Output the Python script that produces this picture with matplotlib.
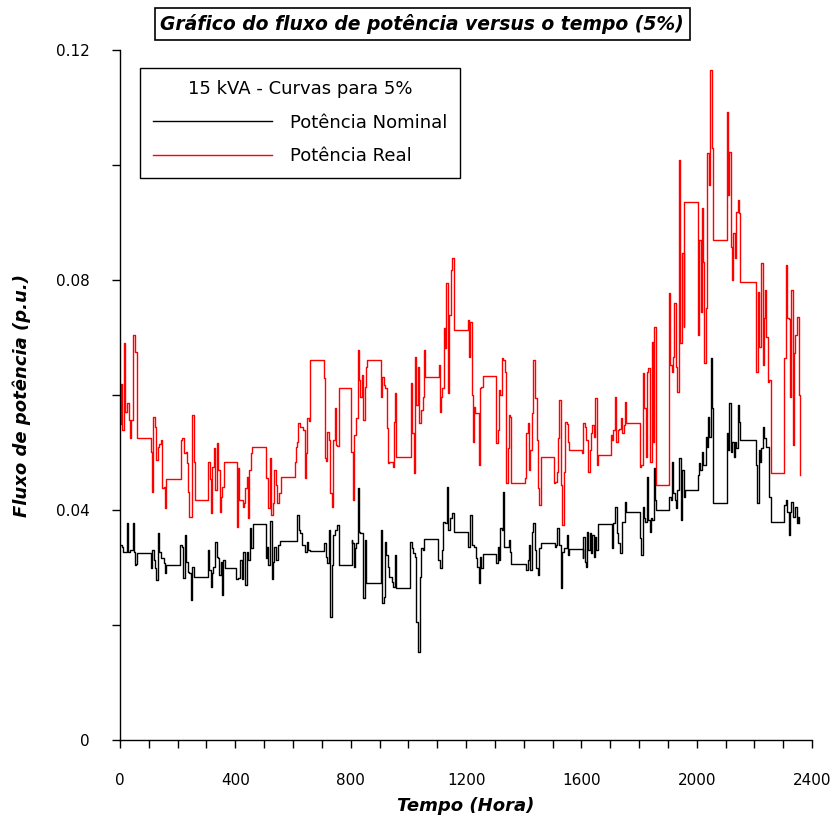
import matplotlib
matplotlib.use("Agg")
import matplotlib.pyplot as plt
from matplotlib.ticker import MultipleLocator

# --- data (hour, p.u.) ---
real_hours = [0, 3, 8, 14, 17, 24, 31, 35, 40, 46, 52, 58, 60, 106, 112, 116, 121, 126, 131, 135,
              141, 147, 153, 156, 158, 210, 214, 223, 228, 231, 235, 239, 251, 257, 260, 306, 311, 316, 320, 326,
              329, 335, 341, 346, 350, 355, 361,
              405, 410, 414, 425, 430, 434, 439, 445, 448, 454, 459, 505, 514, 520, 525, 530, 534, 540, 546, 551,
              557, 606, 610, 615, 618, 624, 636, 640, 645, 650, 654, 659, 706, 711, 716, 719, 725, 728, 735, 739,
              745, 749, 754, 758,
              801, 807, 809, 813, 818, 824, 829, 834, 838, 844, 850, 854, 858, 906, 910, 915, 919, 925, 928, 934,
              945, 949, 954, 958, 1008, 1014, 1020, 1023, 1028, 1032, 1038, 1044, 1049, 1054, 1058, 1106, 1110,
              1113, 1118, 1123, 1127, 1132, 1139, 1142, 1148, 1152, 1157,
              1205, 1209, 1213, 1220, 1223, 1229, 1232, 1239, 1244, 1248, 1253, 1258, 1304, 1309, 1313, 1318,
              1324, 1329, 1335, 1340, 1345, 1349, 1353, 1357, 1406, 1409, 1414, 1418, 1423, 1428, 1433, 1439,
              1445, 1450, 1454, 1459, 1505, 1510, 1514, 1518, 1522, 1528, 1533, 1539, 1544, 1549, 1554, 1558,
              1603, 1607, 1613, 1617, 1622, 1628, 1632, 1638, 1643, 1648, 1653, 1657, 1703, 1707, 1711, 1717,
              1721, 1726, 1730, 1737, 1742, 1747, 1752, 1756, 1803, 1808, 1813, 1818, 1823, 1829, 1832, 1838,
              1844, 1848, 1853, 1858, 1904, 1907, 1913, 1918, 1922, 1927, 1933, 1939, 1943, 1948, 1954, 1957,
              2003, 2008, 2013, 2017, 2022, 2026, 2032, 2037, 2041, 2047, 2052, 2057, 2104, 2109, 2113, 2118,
              2122, 2127, 2132, 2136, 2142, 2147, 2151, 2205, 2211, 2216, 2223, 2228, 2232, 2237, 2241, 2247,
              2252, 2257, 2304, 2309, 2313, 2318, 2323, 2327, 2332, 2336, 2342, 2348, 2354, 2358]
real_vals = [0.055, 0.062, 0.054, 0.069, 0.057, 0.0586, 0.0557, 0.0525, 0.0557, 0.0704,
             0.0675, 0.0626, 0.0525, 0.0501, 0.0431, 0.0562, 0.0545, 0.0487, 0.051, 0.0515,
             0.0522, 0.0438, 0.044, 0.0403, 0.0454, 0.0522, 0.0525, 0.050, 0.0501, 0.0482,
             0.0431, 0.0388, 0.0565, 0.0483, 0.0417, 0.0483, 0.0455, 0.0395, 0.0475, 0.0508,
             0.0435, 0.0517, 0.0470, 0.0397, 0.0423, 0.0440, 0.0483,
             0.0370, 0.0473, 0.0417, 0.0405, 0.0412, 0.0438, 0.0457, 0.0386, 0.0470, 0.0499,
             0.0510, 0.0456, 0.0403, 0.0490, 0.0391, 0.0412, 0.0470, 0.0443, 0.0412, 0.0430,
             0.0457, 0.0483, 0.0510, 0.0518, 0.0551, 0.0544, 0.0539, 0.0456, 0.0499, 0.0560,
             0.0555, 0.0661, 0.0630, 0.0490, 0.0485, 0.0536, 0.0522, 0.0430, 0.0405, 0.0522,
             0.0577, 0.0513, 0.0511, 0.0612,
             0.0501, 0.0480, 0.0417, 0.0530, 0.0560, 0.0678, 0.0626, 0.0597, 0.0635, 0.0557,
             0.0614, 0.0649, 0.0661, 0.0597, 0.0631, 0.0617, 0.0612, 0.0543, 0.0482, 0.0483,
             0.0475, 0.0553, 0.0603, 0.0492, 0.0621, 0.0534, 0.0464, 0.0666, 0.0583, 0.0649,
             0.0551, 0.0574, 0.0597, 0.0678, 0.0631, 0.0652, 0.0570, 0.0597, 0.0612, 0.0717,
             0.0682, 0.0795, 0.0603, 0.0739, 0.0817, 0.0838, 0.0713,
             0.0730, 0.0666, 0.0727, 0.0600, 0.0518, 0.0579, 0.0569, 0.0569, 0.0478, 0.0612,
             0.0614, 0.0633, 0.0517, 0.0539, 0.0609, 0.0600, 0.0664, 0.0661, 0.0640, 0.0447,
             0.0508, 0.0565, 0.0562, 0.0447, 0.0456, 0.0534, 0.0551, 0.0470, 0.0504, 0.0569,
             0.0661, 0.0595, 0.0522, 0.0438, 0.0409, 0.0492, 0.0447, 0.0449, 0.0466, 0.0525,
             0.0591, 0.0443, 0.0374, 0.0466, 0.0553, 0.0550, 0.0518, 0.0504,
             0.0499, 0.0551, 0.0544, 0.0522, 0.0466, 0.0504, 0.0534, 0.0548, 0.0527, 0.0595,
             0.0478, 0.0496, 0.0530, 0.0522, 0.0539, 0.0597, 0.0518, 0.0539, 0.0541, 0.0560,
             0.0534, 0.0548, 0.0588, 0.0551, 0.0475, 0.0478, 0.0638, 0.0577, 0.0492, 0.0640,
             0.0647, 0.0483, 0.0692, 0.0518, 0.0718, 0.0443, 0.0777, 0.0652, 0.0640, 0.0666,
             0.0760, 0.0649, 0.0605, 0.1009, 0.0690, 0.0847, 0.0718, 0.0936,
             0.0704, 0.0870, 0.0744, 0.0925, 0.0831, 0.0656, 0.0751, 0.1021, 0.0965, 0.1165,
             0.1030, 0.0870, 0.1092, 0.0948, 0.1023, 0.0857, 0.0800, 0.0882, 0.0838, 0.0918,
             0.0939, 0.0917, 0.0797, 0.0640, 0.0779, 0.0683, 0.0830, 0.0652, 0.0734, 0.0783,
             0.0701, 0.0623, 0.0626, 0.0464, 0.0664, 0.0826, 0.0734, 0.0732, 0.0597, 0.0783,
             0.0513, 0.0673, 0.0704, 0.0736, 0.0600, 0.0461]

nom_hours = [0, 6, 12, 17, 24, 28, 35, 44, 48, 52, 55, 60, 108, 112, 118, 121, 126, 133, 137, 144,
             151, 156, 159, 208, 214, 220, 225, 230, 235, 239, 246, 251, 258, 305, 310, 315, 319, 324, 329, 335,
             339, 344, 349, 353, 358, 363,
             403, 410, 416, 422, 428, 434, 439, 445, 451, 456, 460, 505, 509, 514, 520, 526, 530, 535, 541, 549,
             555, 613, 620, 625, 632, 640, 647, 653, 659, 707, 714, 719, 725, 729, 735, 739, 745, 754, 758,
             803, 806, 812, 815, 818, 824, 828, 832, 844, 850, 854, 905, 910, 915, 919, 924, 929, 934, 942, 948,
             954, 957, 1007, 1012, 1017, 1023, 1028, 1033, 1039, 1044, 1049, 1053, 1104, 1110, 1116, 1120,
             1127, 1133, 1139, 1143, 1150, 1157,
             1205, 1215, 1220, 1227, 1234, 1239, 1244, 1248, 1253, 1258, 1304, 1310, 1314, 1319, 1324, 1329,
             1333, 1348, 1353, 1357, 1409, 1414, 1418, 1423, 1428, 1432, 1438, 1444, 1450, 1454, 1459, 1507,
             1512, 1517, 1522, 1529, 1534, 1540, 1549, 1554, 1558,
             1603, 1605, 1607, 1613, 1616, 1620, 1624, 1629, 1632, 1638, 1643, 1648, 1652, 1657, 1705, 1707,
             1711, 1717, 1722, 1726, 1732, 1739, 1750, 1754, 1804, 1808, 1814, 1817, 1822, 1828, 1832, 1836,
             1841, 1845, 1853, 1855, 1858, 1905, 1909, 1915, 1919, 1924, 1929, 1933, 1939, 1945, 1950, 1954, 1959,
             2003, 2006, 2011, 2017, 2022, 2031, 2036, 2039, 2043, 2049, 2052, 2057, 2104, 2108, 2113, 2117,
             2122, 2128, 2132, 2137, 2142, 2147, 2151, 2205, 2209, 2214, 2219, 2223, 2229, 2232, 2241, 2249,
             2257, 2304, 2309, 2313, 2318, 2323, 2327, 2334, 2339, 2346, 2350, 2355]
nom_vals = [0.0339, 0.0336, 0.0327, 0.0327, 0.0377, 0.0327, 0.0330, 0.0377, 0.0327, 0.0304,
            0.0306, 0.0325, 0.0299, 0.0330, 0.0313, 0.0299, 0.0278, 0.0360, 0.0327, 0.0317,
            0.0308, 0.0290, 0.0304, 0.0339, 0.0336, 0.0282, 0.0357, 0.0310, 0.0292, 0.0290,
            0.0243, 0.0301, 0.0283, 0.0330, 0.0296, 0.0266, 0.0290, 0.0301, 0.0344, 0.0318,
            0.0317, 0.0287, 0.0310, 0.0252, 0.0313, 0.0299,
            0.0280, 0.0282, 0.0313, 0.0280, 0.0327, 0.0270, 0.0327, 0.0313, 0.0369, 0.0334,
            0.0376, 0.0317, 0.0336, 0.0304, 0.0381, 0.0280, 0.0310, 0.0336, 0.0313, 0.0339,
            0.0346, 0.0391, 0.0365, 0.0360, 0.0339, 0.0327, 0.0344, 0.0330, 0.0329, 0.0343,
            0.0318, 0.0308, 0.0365, 0.0214, 0.0304, 0.0357, 0.0365, 0.0374, 0.0304,
            0.0348, 0.0343, 0.0301, 0.0334, 0.0343, 0.0438, 0.0362, 0.0360, 0.0247, 0.0348,
            0.0273, 0.0365, 0.0238, 0.0249, 0.0344, 0.0322, 0.0301, 0.0283, 0.0275, 0.0266,
            0.0322, 0.0264, 0.0344, 0.0334, 0.0325, 0.0318, 0.0205, 0.0153, 0.0283, 0.0334,
            0.0330, 0.0350, 0.0313, 0.0299, 0.0330, 0.0379, 0.0377, 0.0440, 0.0365, 0.0386,
            0.0395, 0.0362,
            0.0336, 0.0391, 0.0339, 0.0336, 0.0317, 0.0301, 0.0273, 0.0318, 0.0299, 0.0323,
            0.0308, 0.0336, 0.0313, 0.0369, 0.0365, 0.0431, 0.0336, 0.0348, 0.0327, 0.0306,
            0.0296, 0.0313, 0.0339, 0.0296, 0.0362, 0.0377, 0.0330, 0.0299, 0.0287, 0.0334,
            0.0343, 0.0336, 0.0340, 0.0369, 0.0340, 0.0264, 0.0327, 0.0334, 0.0357, 0.0322,
            0.0332,
            0.0332, 0.0317, 0.0353, 0.0310, 0.0301, 0.0362, 0.0330, 0.0360, 0.0325, 0.0357,
            0.0318, 0.0353, 0.0330, 0.0376, 0.0360, 0.0334, 0.0377, 0.0405, 0.0360, 0.0343,
            0.0325, 0.0379, 0.0414, 0.0397, 0.0351, 0.0322, 0.0405, 0.0386, 0.0379, 0.0457,
            0.0383, 0.0362, 0.0386, 0.0383, 0.0473, 0.0417, 0.0400, 0.0423, 0.0417, 0.0483,
            0.0430, 0.0417, 0.0403, 0.0435, 0.0490, 0.0383, 0.0470, 0.0423, 0.0435,
            0.0461, 0.0482, 0.0470, 0.0501, 0.0478, 0.0527, 0.0510, 0.0562, 0.0527, 0.0664,
            0.0577, 0.0412, 0.0534, 0.0504, 0.0586, 0.0501, 0.0518, 0.0492, 0.0518, 0.0508,
            0.0583, 0.0553, 0.0522, 0.0478, 0.0412, 0.0504, 0.0483, 0.0508, 0.0544, 0.0525,
            0.0510, 0.0423, 0.0379, 0.0409, 0.0417, 0.0397, 0.0357, 0.0397, 0.0414, 0.0388,
            0.0405, 0.0377, 0.0388, 0.0377]

x_ticks = [0, 400, 800, 1200, 1600, 2000, 2400]
y_ticks = [0, 0.04, 0.08, 0.12]
y_tick_labels = ["0", "0.04", "0.08", "0.12"]

# --- figure ---
fig = plt.figure(figsize=(8.33, 8.25), dpi=100)
ax = fig.add_axes([0.144, 0.103, 0.831, 0.836])

ax.plot(nom_hours, nom_vals, drawstyle='steps-post', color='black', linewidth=1.0,
        label='Potência Nominal')
ax.plot(real_hours, real_vals, drawstyle='steps-post', color='red', linewidth=1.0,
        label='Potência Real')

ax.set_xlim(0, 2400)
ax.set_ylim(0, 0.12)
for side in ['top', 'right']:
    ax.spines[side].set_visible(False)
for side in ['left', 'bottom']:
    ax.spines[side].set_linewidth(1.0)

ax.set_xticks(x_ticks)
ax.set_xticklabels([str(t) for t in x_ticks])
ax.xaxis.set_minor_locator(MultipleLocator(100))
ax.set_yticks(y_ticks)
ax.set_yticklabels(y_tick_labels)
ax.yaxis.set_minor_locator(MultipleLocator(0.02))
ax.tick_params(axis='both', which='both', direction='out', length=6, width=1, labelsize=11)
ax.tick_params(axis='x', which='major', pad=18)
ax.tick_params(axis='y', which='major', pad=16)

ax.set_xlabel('Tempo (Hora)', fontsize=13, fontweight='bold', fontstyle='italic', labelpad=6)
ax.set_ylabel('Fluxo de potência (p.u.)', fontsize=13, fontweight='bold', fontstyle='italic',
              labelpad=18)

fig.text(0.507, 0.971, 'Gráfico do fluxo de potência versus o tempo (5%)', ha='center', va='center',
         fontsize=13.5, fontweight='bold', fontstyle='italic',
         bbox=dict(boxstyle='square,pad=0.3', facecolor='white', edgecolor='black', linewidth=1.2))

leg = ax.legend(loc='upper left', bbox_to_anchor=(0.029, 0.975), borderaxespad=0,
                title='15 kVA - Curvas para 5%',
                fontsize=13, title_fontsize=13, handlelength=6.6, handletextpad=1.0,
                fancybox=False, edgecolor='black', framealpha=1, borderpad=0.7, labelspacing=0.85)
leg.get_frame().set_linewidth(1.0)

fig.savefig('out.png', dpi=100)
